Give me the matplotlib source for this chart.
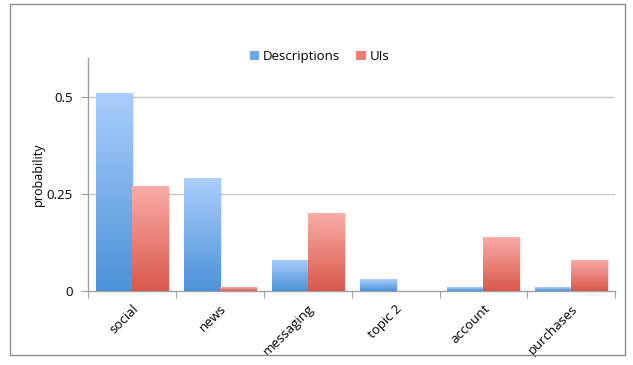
import numpy as np
import matplotlib.pyplot as plt
from matplotlib.patches import Rectangle, Patch
from matplotlib.colors import LinearSegmentedColormap

categories = ['social', 'news', 'messaging', 'topic 2', 'account', 'purchases']
descriptions = [0.51, 0.29, 0.08, 0.03, 0.01, 0.01]
uis = [0.27, 0.01, 0.20, 0.0, 0.14, 0.08]
y_ticks = [0, 0.25, 0.5]
y_tick_labels = ['0', '0.25', '0.5']

plt.rcParams['font.family'] = ['Open Sans', 'DejaVu Sans']

blue_cmap = LinearSegmentedColormap.from_list('b', ['#4b92d8', '#abcefc'])
red_cmap = LinearSegmentedColormap.from_list('r', ['#d9584b', '#fbaca8'])

fig = plt.figure(figsize=(6.33, 3.65), dpi=100)
fig.patches.append(Rectangle((0.016, 0.027), 0.971, 0.962, transform=fig.transFigure,
                             fill=False, edgecolor='#8c8c8c', linewidth=1.0))
ax = fig.add_axes([0.139, 0.203, 0.833, 0.638])

x = np.arange(len(categories))
w = 0.41
grad = np.linspace(0, 1, 256).reshape(-1, 1)

def gradient_bars(pos, vals, cmap):
    bars = ax.bar(pos, vals, w, color='none', edgecolor='none', zorder=3)
    for b in bars:
        if b.get_height() <= 0:
            continue
        x0, h = b.get_x(), b.get_height()
        # soft shadow
        ax.add_patch(Rectangle((x0 + 0.025, 0), w, h, facecolor='#000000',
                               alpha=0.08, edgecolor='none', zorder=2))
        im = ax.imshow(grad, extent=[x0, x0 + w, 0, h], origin='lower',
                       cmap=cmap, aspect='auto', zorder=3)
        im.set_clip_path(b)

gradient_bars(x - w / 2, descriptions, blue_cmap)
gradient_bars(x + w / 2, uis, red_cmap)

ax.set_xlim(-0.5, len(categories) - 0.5)
ax.set_ylim(0, 0.6)
ax.set_yticks(y_ticks)
ax.set_yticklabels(y_tick_labels, fontsize=9.5)
for g in y_ticks[1:]:
    ax.axhline(g, color='#c8c8c8', linewidth=1.0, zorder=1)

ax.set_xticks(np.arange(len(categories) + 1) - 0.5)
ax.set_xticklabels([])
ax.set_xticks(x, minor=True)
ax.set_xticklabels(categories, minor=True, rotation=45, ha='right', va='top',
                   rotation_mode='anchor', fontsize=9.5)
ax.tick_params(axis='x', which='minor', length=0, pad=8)
ax.tick_params(axis='x', which='major', length=5, color='#a0a0a0', direction='out')
ax.tick_params(axis='y', length=5, color='#a0a0a0', direction='out', pad=6)

for s in ['top', 'right']:
    ax.spines[s].set_visible(False)
for s in ['left', 'bottom']:
    ax.spines[s].set_color('#a0a0a0')
    ax.spines[s].set_linewidth(1.0)

ax.set_ylabel('probability', fontsize=9, labelpad=1)

handles = [Patch(facecolor='#6fa8e8', edgecolor='none', label='Descriptions'),
           Patch(facecolor='#ec7e76', edgecolor='none', label='UIs')]
fig.legend(handles=handles, loc='center', bbox_to_anchor=(0.505, 0.845), ncol=2,
           frameon=False, fontsize=9.5, handlelength=0.7, handleheight=0.7,
           handletextpad=0.3, columnspacing=1.2)

fig.savefig('out.png', dpi=100)
